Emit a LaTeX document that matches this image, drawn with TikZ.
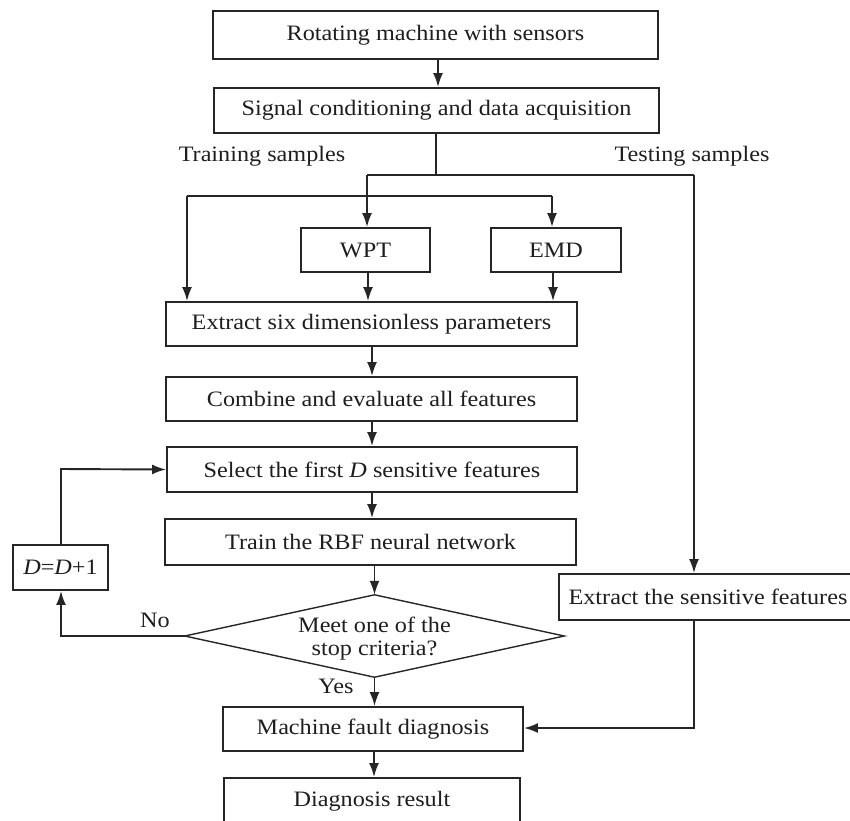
\documentclass[tikz,border=0pt]{standalone}
\usepackage{fontspec}
\setmainfont{Liberation Serif}[FakeStretch=1.1]
\usetikzlibrary{shapes.geometric,arrows.meta,calc}

\definecolor{ink}{HTML}{262626}
\definecolor{txt}{HTML}{1E1E1E}

\tikzset{
  every node/.style={text=txt, font=\fontsize{22}{26}\selectfont},
  box/.style={draw=ink, line width=1.9pt, inner sep=0pt, fill=white},
  outline/.style={draw=ink, line width=1.4pt},
  link/.style={draw=ink, line width=1.9pt},
  arr/.style={link, -{Latex[length=14pt,width=10pt]}},
  lbl/.style={inner sep=0pt},
}

\begin{document}
\begin{tikzpicture}[x=1pt,y=-1pt]
\useasboundingbox (0,0) rectangle (850,820);

% main column of processing steps
\node[box, minimum width=445pt, minimum height=48pt] (r1) at (435.5,35) {Rotating machine with sensors};
\node[box, minimum width=445pt, minimum height=45pt] (r2) at (436.5,110.5) {Signal conditioning and data acquisition};
\node[box, minimum width=129pt, minimum height=44pt] (wpt) at (365.5,250) {WPT};
\node[box, minimum width=130pt, minimum height=44pt] (emd) at (556,250) {EMD};
\node[box, minimum width=411pt, minimum height=44pt] (ex6) at (371.5,324) {Extract six dimensionless parameters};
\node[box, minimum width=411pt, minimum height=44pt] (comb) at (371.5,399) {Combine and evaluate all features};
\node[box, minimum width=410pt, minimum height=45pt] (sel) at (372,469.5) {Select the first \textit{D} sensitive features};
\node[box, minimum width=411pt, minimum height=46pt] (train) at (370.5,542) {Train the RBF neural network};
\node[box, minimum width=95pt, minimum height=45pt] (dbox) at (60.5,567.5) {\textit{D}=\textit{D}+1};
\node[box, minimum width=300pt, minimum height=44pt] (mfd) at (373,729) {Machine fault diagnosis};
\node[box, minimum width=296pt, minimum height=46pt] (res) at (372,801) {Diagnosis result};

% stopping test: the outline is drawn from the anchors of an invisible diamond
\node[diamond, aspect=4.6, inner sep=0pt, minimum width=379pt, minimum height=82pt] (dia) at (374.5,636) {};
\draw[outline] (dia.north) -- (dia.east) -- (dia.south) -- (dia.west) -- cycle;
\node[align=center, font=\fontsize{22}{23}\selectfont] (diatext) at (374.5,639) {Meet one of the\\stop criteria?};

% testing branch
\node[box, minimum width=298pt, minimum height=46pt] (exs) at (708,597) {Extract the sensitive features};

% branch labels
\node[lbl] (ltrain) at (262,156) {Training samples};
\node[lbl] (ltest) at (692,156) {Testing samples};
\node[lbl] (lno) at (155,620) {No};
\node[lbl] (lyes) at (336,686) {Yes};

% split points
\coordinate (s0) at (436,175);
\coordinate (sa) at (367,175);
\coordinate (sb) at (694,175);
\coordinate (ta) at (187,196);
\coordinate (tb) at (552,196);
\coordinate (la) at (61,636);
\coordinate (lb) at (61,469);
\coordinate (ra) at (694,728);

% connectors
\draw[arr] (r1.south -| 438,0) -- (r2.north -| 438,0);
\draw[link] (r2.south -| s0) -- (s0);
\draw[link] (sa) -- (sb);
\draw[arr] (sa) -- (sa |- wpt.north);
\draw[arr] (sb) -- (sb |- exs.north);
\draw[link] (ta) -- (tb);
\draw[arr] (ta) -- (ta |- ex6.north);
\draw[arr] (tb) -- (tb |- emd.north);
\draw[arr] (wpt.south -| 368,0) -- (ex6.north -| 368,0);
\draw[arr] (emd.south -| 553,0) -- (ex6.north -| 553,0);
\draw[arr] (ex6.south -| 372,0) -- (comb.north -| 372,0);
\draw[arr] (comb.south -| 372,0) -- (sel.north -| 372,0);
\draw[arr] (sel.south -| 372,0) -- (train.north -| 372,0);
\draw[arr] (train.south -| dia.north) -- (dia.north);
\draw[arr] (dia.west) -- (la) -- (dbox.south -| la);
\draw[arr] (dbox.north -| lb) -- (lb) -- (sel.west);
\draw[arr] (dia.south) -- (mfd.north -| dia.south);
\draw[arr] (mfd.south -| 374,0) -- (res.north -| 374,0);
\draw[arr] (exs.south -| ra) -- (ra) -- (mfd.east |- ra);
\end{tikzpicture}
\end{document}
